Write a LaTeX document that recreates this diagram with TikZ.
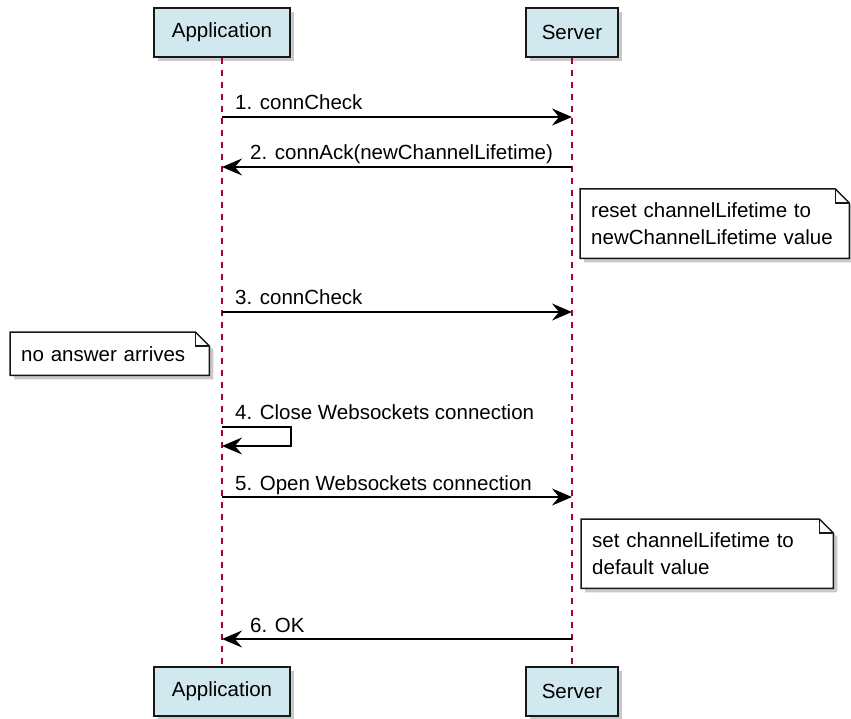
\documentclass[tikz,border=0pt]{standalone}
\usepackage{fontspec}
\setmainfont{Liberation Sans}
\usetikzlibrary{arrows.meta, positioning, shadows, calc, backgrounds}
\definecolor{partfill}{RGB}{209,233,238}
\definecolor{lifered}{RGB}{168,0,54}
\definecolor{edgegray}{RGB}{24,24,24}
\newcommand{\dogear}[1]{%
    \begin{pgfonlayer}{background}
        \draw[noteline, fill=white, drop shadow={shadow xshift=4pt, shadow yshift=-4pt, fill=gray!70, opacity=.6}]
            (#1.north west) -- ($(#1.north east)+(-14,0)$) -- ($(#1.north east)+(0,14)$)
            -- (#1.south east) -- (#1.south west) -- cycle;
        \draw[noteline] ($(#1.north east)+(-14,0)$) |- ($(#1.north east)+(0,14)$);
    \end{pgfonlayer}
}

\begin{document}
\begin{tikzpicture}[
        x=1pt, y=-1pt,
        font=\fontsize{20.5pt}{27pt}\selectfont,
        part/.style={rectangle, draw=edgegray, line width=2pt, fill=partfill, minimum height=49pt, inner sep=0pt,
            drop shadow={shadow xshift=4pt, shadow yshift=-4pt, fill=gray!70, opacity=.6}},
        lifeline/.style={draw=lifered, line width=1.6pt, dash pattern=on 6pt off 6pt},
        msg/.style={-{Stealth[length=20pt, width=17pt, inset=7pt]}, line width=1.5pt, draw=black},
        lbl/.style={anchor=base west, inner sep=0pt},
        note/.style={rectangle, inner xsep=11pt, inner ysep=0pt, align=left, anchor=north west},
        noteline/.style={draw=edgegray, line width=1.5pt}
    ]
        \useasboundingbox (0,0) rectangle (851,719);

        % participants
        \node[part, minimum width=136pt] (apphead) at (222,32.5) {Application};
        \node[part, minimum width=92pt] (srvhead) at (572,32.5) {Server};
        \node[part, minimum width=136pt] (appfoot) at (222,691.5) {Application};
        \node[part, minimum width=92pt] (srvfoot) at (572,691.5) {Server};

        \draw[lifeline] (apphead.south) -- (appfoot.north);
        \draw[lifeline] (srvhead.south) -- (srvfoot.north);

        % message rows
        \coordinate (r1) at (0,117);
        \coordinate (r2) at (0,167);
        \coordinate (r3) at (0,312);
        \coordinate (r4) at (0,427);
        \coordinate (r4b) at (0,446);
        \coordinate (r5) at (0,497);
        \coordinate (r6) at (0,639);

        \draw[msg] (apphead |- r1) -- (srvhead |- r1);
        \node[lbl] (l1) at (235,110) {1. connCheck};

        \draw[msg] (srvhead |- r2) -- (apphead |- r2);
        \node[lbl] (l2) at (250,160) {2. connAck(newChannelLifetime)};

        \node[note, text width=247pt, minimum height=69pt] (resetnote) at (580,189)
            {reset channelLifetime to\\newChannelLifetime value};
        \dogear{resetnote}

        \draw[msg] (apphead |- r3) -- (srvhead |- r3);
        \node[lbl] (l3) at (235,305) {3. connCheck};

        \node[note, text width=177pt, minimum height=43pt] (noanswer) at (10,332) {no answer arrives};
        \dogear{noanswer}

        \draw[msg] (apphead |- r4) -- ++(69,0) -- ++(0,19) -- (apphead |- r4b);
        \node[lbl] (l4) at (235,419) {4. Close Websockets connection};

        \draw[msg] (apphead |- r5) -- (srvhead |- r5);
        \node[lbl] (l5) at (235,490) {5. Open Websockets connection};

        \node[note, text width=230pt, minimum height=69pt] (setnote) at (581,519)
            {set channelLifetime to\\default value};
        \dogear{setnote}

        \draw[msg] (srvhead |- r6) -- (apphead |- r6);
        \node[lbl] (l6) at (250,632) {6. OK};
    \end{tikzpicture}
\end{document}
